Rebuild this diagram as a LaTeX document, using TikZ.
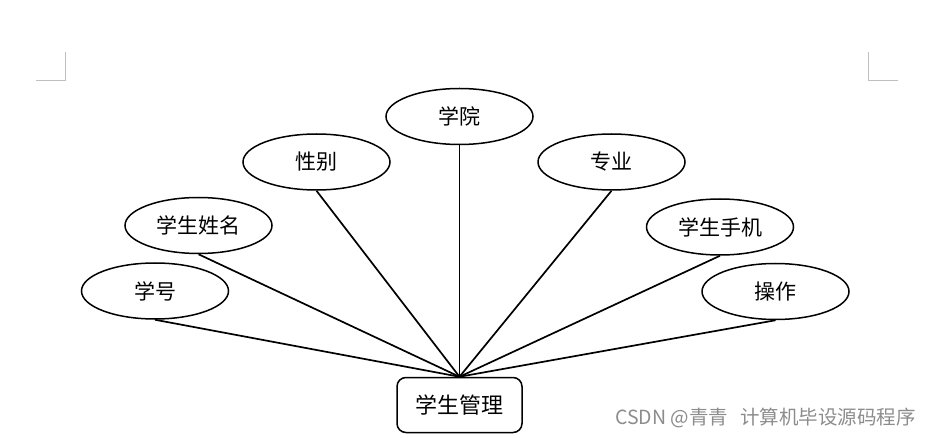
\documentclass[tikz,border=0pt]{standalone}
\usepackage{fontspec}
\newfontfamily\cjk{Noto Sans CJK SC}
\usetikzlibrary{shapes.geometric}

\begin{document}
\begin{tikzpicture}[x=1pt, y=-1pt,
    attr/.style={draw, ellipse, line width=1.5pt, minimum width=147pt, minimum height=56pt, inner sep=0pt, font=\cjk\fontsize{21}{24}\selectfont},
    entity/.style={draw, rectangle, rounded corners=9pt, line width=1.5pt, minimum width=125pt, minimum height=55pt, font=\cjk\fontsize{22}{26}\selectfont},
    link/.style={line width=1.7pt},
    cornermark/.style={draw=black!25, line width=1pt}]
        \useasboundingbox (0,0) rectangle (931,438);

        % Page corners
        \draw[cornermark] (65,52) -- (65,81) -- (36,81);
        \draw[cornermark] (868,52) -- (868,81) -- (898,81);

        % Nodes
        \node (Mgr) [entity] at (459.5,405) {学生管理};
        \node (Num) [attr] at (155,291) {学号};
        \node (Name) [attr] at (198.5,225.5) {学生姓名};
        \node (Sex) [attr] at (316.5,162) {性别};
        \node (Dept) [attr] at (459.5,116.5) {学院};
        \node (Major) [attr] at (611.5,162) {专业};
        \node (Phone) [attr] at (720,227) {学生手机};
        \node (Op) [attr] at (775.5,291.5) {操作};

        % Lines
        \draw[link] (Num.south) -- (Mgr.north);
        \draw[link] (Name.south) -- (Mgr.north);
        \draw[link] (Sex.south) -- (Mgr.north);
        \draw[link] (Dept.south) -- (Mgr.north);
        \draw[link] (Major.south) -- (Mgr.north);
        \draw[link] (Phone.south) -- (Mgr.north);
        \draw[link] (Op.south) -- (Mgr.north);

        % Watermark
        \node (Wm) [text=black!45, font=\cjk\fontsize{19.5}{22}\selectfont, anchor=east, inner sep=0pt] at (916,418) {CSDN @青青\hspace{12pt}计算机毕设源码程序};
    \end{tikzpicture}
\end{document}
